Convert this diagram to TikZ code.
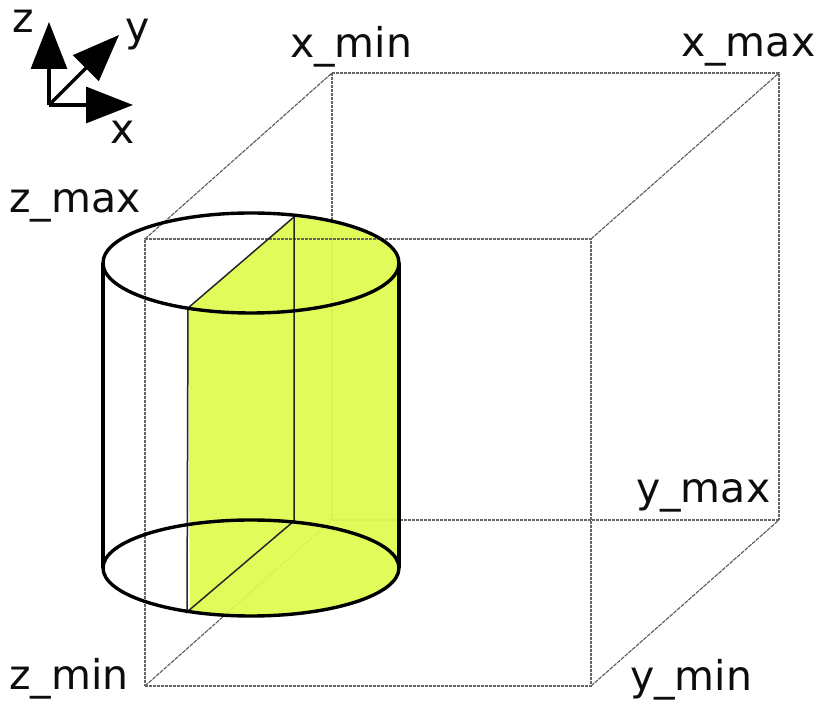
\documentclass[tikz,border=0pt]{standalone}
\usepackage{fontspec}
\setmainfont{DejaVu Sans}
\usetikzlibrary{arrows.meta}
\definecolor{cutfill}{HTML}{DFFC4E}
\tikzset{
  x=1pt,y=1pt,
  boxedge/.style={draw=black!60,line width=1.3pt,dash pattern=on 3pt off 1pt},
  diagedge/.style={draw=black!65,line width=1.1pt,dash pattern=on 4pt off 1pt},
  rimline/.style={draw=black,line width=3.4pt},
  cutline/.style={draw=black!85,line width=1.5pt},
  axis/.style={draw=black,line width=3.2pt,-{Triangle[length=47pt,width=36pt]}},
  lbl/.style={inner sep=0pt,anchor=base west,font=\fontsize{41}{41}\selectfont,text=black!95},
}
\begin{document}
\begin{tikzpicture}
\useasboundingbox (0,0) rectangle (819,701);
\coordinate (A) at (145,15);
\coordinate (B) at (591,15);
\coordinate (C) at (591,462);
\coordinate (D) at (145,462);
\coordinate (E) at (332,181);
\coordinate (F) at (779,181);
\coordinate (G) at (779,628);
\coordinate (H) at (332,628);
\coordinate (topc) at (251,438);
\coordinate (botc) at (251,133);
\coordinate (tl) at (103,438);
\coordinate (tr) at (399,438);
\coordinate (bl) at (103,133);
\coordinate (br) at (399,133);
\coordinate (p1) at (188,393);
\coordinate (p2) at (294,484);
\coordinate (p3) at (187,89);
\coordinate (p4) at (294,180);
\draw[boxedge] (E) -- (F);
\draw[boxedge] (E) -- (H);
\draw[diagedge] (A) -- (E);
\draw[boxedge] (H) -- (G) -- (F);
\draw[diagedge] (D) -- (H);
\draw[diagedge] (C) -- (G);
\draw[diagedge] (B) -- (F);
\fill[cutfill,fill opacity=0.93] (p1) -- (p2)
  arc[start angle=73,end angle=0,x radius=148,y radius=50] -- (br)
  arc[start angle=0,end angle=-114.4,x radius=148,y radius=48] -- cycle;
\draw[boxedge] (A) -- (B) -- (C) -- (D) -- cycle;
\draw[cutline] (p1) -- (p2) -- (p4) -- (p3) -- (p1);
\draw[rimline] (topc) ellipse[x radius=148,y radius=50];
\draw[rimline] (botc) ellipse[x radius=148,y radius=48];
\draw[rimline] (tl) -- (bl);
\draw[rimline] (tr) -- (br);
\coordinate (O) at (49,596);
\coordinate (zt) at (49,679);
\coordinate (yt) at (119,666);
\coordinate (xt) at (133,596);
\draw[axis] (O) -- (zt);
\draw[axis] (O) -- (yt);
\draw[axis] (O) -- (xt);
\node[lbl] (lz) at (12,668) {z};
\node[lbl] (ly) at (125,659) {y};
\node[lbl] (lx) at (110,557) {x};
\node[lbl] (lxmin) at (290,643) {x\_min};
\node[lbl] (lxmax) at (681,644) {x\_max};
\node[lbl] (lzmax) at (9,488) {z\_max};
\node[lbl] (lymax) at (636,198) {y\_max};
\node[lbl] (lzmin) at (9,11) {z\_min};
\node[lbl] (lymin) at (630,10) {y\_min};
\end{tikzpicture}
\end{document}
